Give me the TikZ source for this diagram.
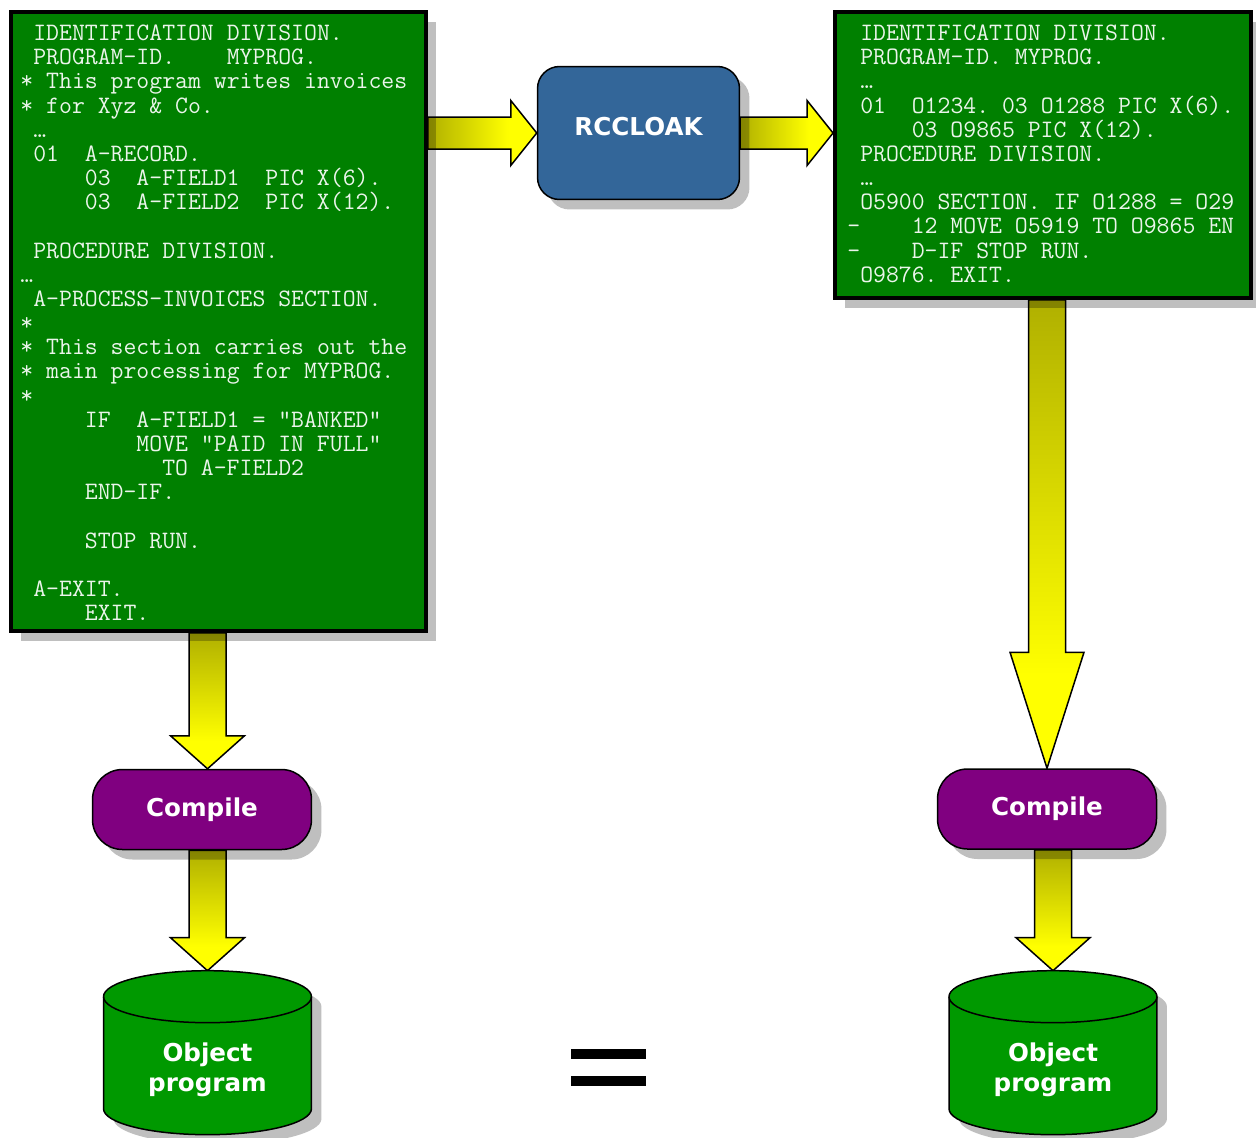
\documentclass[tikz,border=0pt]{standalone}
\usepackage{fontspec}
\setsansfont{DejaVu Sans}
\usetikzlibrary{calc,shadows}
\definecolor{codegreen}{RGB}{0,128,0}
\definecolor{objgreen}{RGB}{0,153,0}
\definecolor{cloakblue}{RGB}{51,102,153}
\definecolor{compurple}{RGB}{128,0,128}
\definecolor{olv}{RGB}{176,176,0}
\definecolor{codetxt}{RGB}{235,245,235}
\pgfdeclarelayer{arrows}
\pgfdeclarelayer{cyl}
\pgfsetlayers{arrows,cyl,main}
\pgfdeclareverticalshading{fatv}{100bp}{color(0bp)=(yellow); color(35bp)=(yellow); color(75bp)=(olv); color(100bp)=(olv)}
\pgfdeclarehorizontalshading{fath}{100bp}{color(0bp)=(olv); color(25bp)=(olv); color(62bp)=(yellow); color(100bp)=(yellow)}
\newcommand\pad[1]{\hspace*{#1\fontcharwd\font`\0}}

\tikzset{
	shadowed/.style={drop shadow={shadow xshift=0.2cm, shadow yshift=-0.2cm, fill=black, opacity=0.25}},
	codebox/.style={draw, line width=0.08cm, fill=codegreen, shadowed},
	codetext/.style={anchor=north west, inner sep=0pt, align=left, text=codetxt, font=\ttfamily\frenchspacing\fontsize{14.25pt}{13.76pt}\selectfont},
	bigword/.style={text=white, font=\sffamily\bfseries\fontsize{14pt}{17pt}\selectfont},
	cloakbox/.style={draw, line width=0.03cm, fill=cloakblue, rounded corners=0.44cm, minimum width=4.04cm, minimum height=2.66cm, text depth=0.28cm, bigword, shadowed},
	compbox/.style={draw, line width=0.03cm, fill=compurple, rounded corners=0.6cm, minimum width=4.38cm, minimum height=1.6cm, bigword, shadowed},
	objlabel/.style={minimum width=4.16cm, minimum height=3.96cm, align=center, bigword},
	cylbody/.style={draw, line width=0.03cm, fill=objgreen},
	cylshadow/.style={fill=black, opacity=0.25},
	fat down/.style={draw, line width=0.03cm, shade, shading=fatv,
		to path={let \p1=(\tikztostart), \p2=(\tikztotarget) in
			(\x2-0.37cm,\y1) -- (\x2-0.37cm,\y2+#1) -- (\x2-0.74cm,\y2+#1) -- (\x2,\y2)
			-- (\x2+0.74cm,\y2+#1) -- (\x2+0.37cm,\y2+#1) -- (\x2+0.37cm,\y1) -- cycle}},
	fat down/.default=0.66cm,
	fat right/.style={draw, line width=0.03cm, shade, shading=fath,
		to path={let \p1=(\tikztostart), \p2=(\tikztotarget) in
			(\x1,\y1+0.32cm) -- (\x2-#1,\y1+0.32cm) -- (\x2-#1,\y1+0.65cm) -- (\x2,\y1)
			-- (\x2-#1,\y1-0.65cm) -- (\x2-#1,\y1-0.32cm) -- (\x1,\y1-0.32cm) -- cycle}},
	fat right/.default=0.52cm,
}

\begin{document}
\begin{tikzpicture}[x=0.02cm,y=-0.02cm]
	\useasboundingbox (0,0) rectangle (1256,1137);

	% source program
	\node[codebox, minimum width=8.30cm, minimum height=12.38cm] (code1) at (218.5,321.5) {};
	\node[codetext] (src) at (20.1,23.2) {\strut\pad{1}IDENTIFICATION DIVISION.\\
		\pad{1}PROGRAM-ID.\pad{4}MYPROG.\\
		* This program writes invoices\\
		* for Xyz \& Co.\\
		\pad{1}…\\
		\pad{1}01\pad{2}A-RECORD.\\
		\pad{5}03\pad{2}A-FIELD1\pad{2}PIC X(6).\\
		\pad{5}03\pad{2}A-FIELD2\pad{2}PIC X(12).\\
		\strut\\
		\pad{1}PROCEDURE DIVISION.\\
		…\\
		\pad{1}A-PROCESS-INVOICES SECTION.\\
		*\\
		* This section carries out the\\
		* main processing for MYPROG.\\
		*\\
		\pad{5}IF\pad{2}A-FIELD1 = “BANKED”\\
		\pad{9}MOVE “PAID IN FULL”\\
		\pad{11}TO A-FIELD2\\
		\pad{5}END-IF.\\
		\strut\\
		\pad{5}STOP RUN.\\
		\strut\\
		\pad{1}A-EXIT.\\
		\pad{5}EXIT.};

	%% cloaked program
	\node[codebox, minimum width=8.32cm, minimum height=5.72cm] (codeR) at (1043,155) {};
	\node[codetext] (cloaked) at (847,23.2) {\strut\pad{1}IDENTIFICATION DIVISION.\\
		\pad{1}PROGRAM-ID. MYPROG.\\
		\pad{1}…\\
		\pad{1}01\pad{2}O1234. 03 O1288 PIC X(6).\\
		\pad{5}03 O9865 PIC X(12).\\
		\pad{1}PROCEDURE DIVISION.\\
		\pad{1}…\\
		\pad{1}O5900 SECTION. IF O1288 = O29\\
		—\pad{4}12 MOVE O5919 TO O9865 EN\\
		—\pad{4}D-IF STOP RUN.\\
		\pad{1}O9876. EXIT.};

	\node[cloakbox] (rc) at (638.5,133) {RCCLOAK};

	\node[compbox] (comp1) at (202,809.5) {Compile};
	\node[compbox] (comp2) at (1047,809) {Compile};

	\node[objlabel] (obj1) at (207.5,1070) {Object\\program};
	\node[objlabel] (obj2) at (1053,1070) {Object\\program};

	% cylinders
	\begin{pgfonlayer}{cyl}
	\foreach \o in {obj1,obj2} {
		\fill[cylshadow] ([shift={(10,10)}]\o.north) ++(-104,26) -- ++(0,112)
			arc[start angle=180, end angle=360, x radius=2.08cm, y radius=0.52cm] -- ++(0,-112)
			arc[start angle=0, end angle=180, x radius=2.08cm, y radius=0.52cm] -- cycle;
		\draw[cylbody] (\o.north) ++(-104,26) -- ++(0,112)
			arc[start angle=180, end angle=360, x radius=2.08cm, y radius=0.52cm] -- ++(0,-112)
			arc[start angle=0, end angle=180, x radius=2.08cm, y radius=0.52cm] -- cycle;
		\draw[line width=0.03cm] (\o.north) ++(-104,26)
			arc[start angle=180, end angle=360, x radius=2.08cm, y radius=0.52cm];
	}
	\end{pgfonlayer}

	% arrows
	\begin{pgfonlayer}{arrows}
	\draw[fat right] (code1.east |- rc.west) to (rc.west);
	\draw[fat right] (rc.east) to (codeR.west |- rc.east);
	\draw[fat down] (code1.south) to (comp1.north -| obj1.north);
	\draw[fat down] (comp1.south) to (obj1.north);
	\draw[fat down=2.32cm] (codeR.south) to (comp2.north);
	\draw[fat down] (comp2.south) to (obj2.north);
	\end{pgfonlayer}

	% equals
	\fill (571,1049) rectangle (646,1059);
	\fill (571,1076) rectangle (646,1086);
\end{tikzpicture}
\end{document}
